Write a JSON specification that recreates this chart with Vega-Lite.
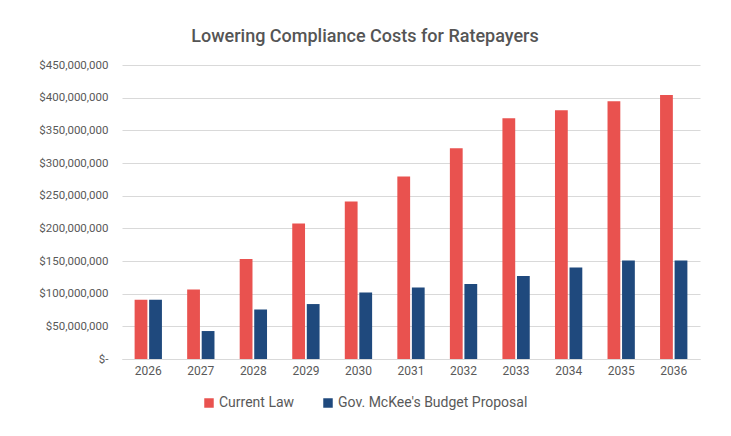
{
  "$schema": "https://vega.github.io/schema/vega-lite/v6.json",
  "width": 578,
  "height": 294,
  "autosize": {"type": "none"},
  "padding": {"left": 122, "top": 65, "right": 31, "bottom": 77},
  "background": "white",
  "title": {
    "text": "Lowering Compliance Costs for Ratepayers",
    "anchor": "middle",
    "frame": "group",
    "dx": -46,
    "offset": 13,
    "font": "Roboto",
    "fontSize": 18,
    "fontWeight": 500,
    "color": "#555555"
  },
  "data": {
    "values": [
      {"year": "2026", "series": "Current Law", "value": 90700000},
      {"year": "2026", "series": "Gov. McKee's Budget Proposal", "value": 90700000},
      {"year": "2027", "series": "Current Law", "value": 106500000},
      {"year": "2027", "series": "Gov. McKee's Budget Proposal", "value": 42800000},
      {"year": "2028", "series": "Current Law", "value": 152900000},
      {"year": "2028", "series": "Gov. McKee's Budget Proposal", "value": 75900000},
      {"year": "2029", "series": "Current Law", "value": 207400000},
      {"year": "2029", "series": "Gov. McKee's Budget Proposal", "value": 84100000},
      {"year": "2030", "series": "Current Law", "value": 241100000},
      {"year": "2030", "series": "Gov. McKee's Budget Proposal", "value": 101900000},
      {"year": "2031", "series": "Current Law", "value": 279300000},
      {"year": "2031", "series": "Gov. McKee's Budget Proposal", "value": 109600000},
      {"year": "2032", "series": "Current Law", "value": 322600000},
      {"year": "2032", "series": "Gov. McKee's Budget Proposal", "value": 114700000},
      {"year": "2033", "series": "Current Law", "value": 368500000},
      {"year": "2033", "series": "Gov. McKee's Budget Proposal", "value": 126900000},
      {"year": "2034", "series": "Current Law", "value": 380700000},
      {"year": "2034", "series": "Gov. McKee's Budget Proposal", "value": 140200000},
      {"year": "2035", "series": "Current Law", "value": 394500000},
      {"year": "2035", "series": "Gov. McKee's Budget Proposal", "value": 150900000},
      {"year": "2036", "series": "Current Law", "value": 404200000},
      {"year": "2036", "series": "Gov. McKee's Budget Proposal", "value": 150900000}
    ]
  },
  "mark": {"type": "bar"},
  "encoding": {
    "x": {
      "field": "year",
      "type": "nominal",
      "scale": {"paddingInner": 0.48, "paddingOuter": 0.24},
      "axis": {
        "title": null,
        "labelAngle": 0,
        "labelFont": "Roboto",
        "labelFontSize": 12,
        "labelColor": "#595959",
        "labelPadding": 6,
        "ticks": false,
        "domainColor": "#d9d9d9",
        "domainWidth": 1
      }
    },
    "xOffset": {
      "field": "series",
      "type": "nominal",
      "scale": {"paddingInner": 0.12}
    },
    "y": {
      "field": "value",
      "type": "quantitative",
      "scale": {"domain": [0, 450000000], "nice": false},
      "axis": {
        "title": null,
        "values": [0, 50000000, 100000000, 150000000, 200000000, 250000000, 300000000, 350000000, 400000000, 450000000],
        "labelExpr": "datum.value == 0 ? '$-' : '$' + format(datum.value, ',')",
        "labelFont": "Roboto",
        "labelFontSize": 11.5,
        "labelColor": "#595959",
        "labelPadding": 14,
        "ticks": false,
        "domain": false,
        "grid": true,
        "gridColor": "#d9d9d9",
        "gridWidth": 1
      }
    },
    "color": {
      "field": "series",
      "type": "nominal",
      "scale": {
        "domain": ["Current Law", "Gov. McKee's Budget Proposal"],
        "range": ["#E9524F", "#1F497D"]
      },
      "legend": {
        "title": null,
        "orient": "none",
        "direction": "horizontal",
        "legendX": 80,
        "legendY": 331,
        "symbolType": "square",
        "symbolSize": 90,
        "symbolStrokeWidth": 0,
        "labelFont": "Roboto",
        "labelFontSize": 14,
        "labelColor": "#595959",
        "labelLimit": 0,
        "columnPadding": 26,
        "labelOffset": 3
      }
    }
  },
  "config": {"view": {"stroke": null}}
}
